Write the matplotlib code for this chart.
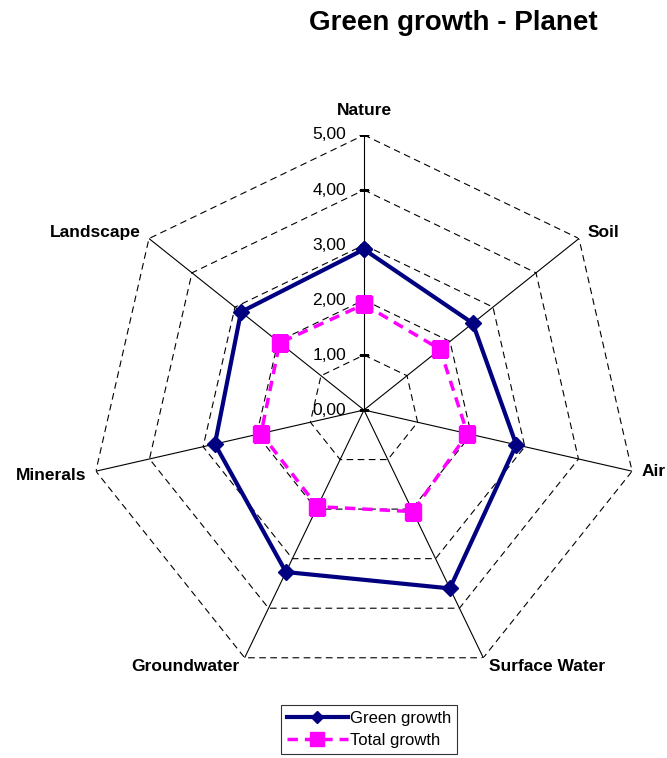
import numpy as np
import matplotlib
matplotlib.use("Agg")
import matplotlib.pyplot as plt

plt.rcParams['font.family'] = ['Liberation Sans', 'DejaVu Sans']

# Datos
categories = ['Nature', 'Soil', 'Air', 'Surface Water', 'Groundwater', 'Minerals', 'Landscape']
green_growth = [2.92, 2.53, 2.84, 3.60, 3.27, 2.78, 2.86]
total_growth = [1.92, 1.77, 1.93, 2.05, 1.95, 1.92, 1.96]
levels = [0, 1, 2, 3, 4, 5]
level_labels = ['0,00', '1,00', '2,00', '3,00', '4,00', '5,00']

n = len(categories)
angles = np.linspace(0, 2 * np.pi, n, endpoint=False)
closed = np.append(angles, angles[0])

fig = plt.figure(figsize=(6.67, 7.58), dpi=100)
ax = fig.add_axes([0.1334, 0.0963, 0.8246, 0.7256], projection='polar')
ax.set_theta_offset(np.pi / 2)
ax.set_theta_direction(-1)
ax.set_ylim(0, 5)
ax.grid(False)
ax.spines['polar'].set_visible(False)
ax.set_xticks([])
ax.set_yticks([])
ax.patch.set_alpha(0)

# rejilla poligonal
for lv in levels[1:]:
    ax.plot(closed, [lv] * (n + 1), color='black', lw=0.8,
            linestyle=(0, (6, 4)), zorder=1)
for a in angles:
    ax.plot([a, a], [0, 5], color='black', lw=0.8, zorder=1)
ax.plot([0] * len(levels), levels, linestyle='none', marker='_',
        markersize=7, markeredgewidth=0.8, color='black', zorder=1)

# etiquetas de valores
for lv, lab in zip(levels, level_labels):
    ax.annotate(lab, xy=(0, lv), xytext=(-13, 0), textcoords='offset points',
                ha='right', va='center', fontsize=12.5)

# etiquetas de categorias
offsets = [(0, 12, 'center', 'bottom'), (6, 4, 'left', 'center'),
           (7, 0, 'left', 'center'), (4, -1, 'left', 'top'),
           (-4, -1, 'right', 'top'), (-7, -3, 'right', 'center'),
           (-6, 4, 'right', 'center')]
for a, cat, (dx, dy, ha, va) in zip(angles, categories, offsets):
    ax.annotate(cat, xy=(a, 5), xytext=(dx, dy), textcoords='offset points',
                ha=ha, va=va, fontsize=12.5, fontweight='bold')

g = green_growth + green_growth[:1]
t = total_growth + total_growth[:1]
ax.plot(closed, g, color='#000080', lw=3, marker='D', markersize=8,
        label='Green growth', zorder=4)
ax.plot(closed, t, color='#FF00FF', lw=2.5, linestyle=(0, (3, 2)),
        marker='s', markersize=12, label='Total growth', zorder=3)

fig.text(0.68, 0.969, 'Green growth - Planet', ha='center', va='center',
         fontsize=20, fontweight='bold')

leg = fig.legend(loc='lower center', bbox_to_anchor=(0.553, 0.001),
                 fontsize=12, frameon=True, fancybox=False, handlelength=3.7,
                 borderpad=0.35, labelspacing=0.45, handletextpad=0.1,
                 borderaxespad=0.2, markerscale=0.8)
leg.get_frame().set_edgecolor('black')
leg.get_frame().set_linewidth(0.8)

fig.savefig('out.png', dpi=100)
